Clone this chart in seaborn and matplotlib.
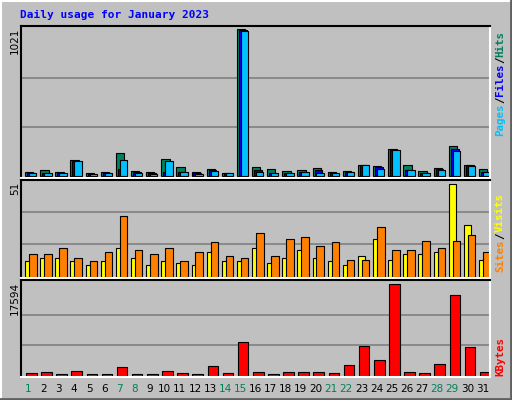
import matplotlib
matplotlib.use("Agg")
import matplotlib.pyplot as plt
import seaborn as sns
import numpy as np
from matplotlib.lines import Line2D

days = list(range(1, 32))
hits = [23,37,23,113,16,23,155,30,23,120,58,23,44,21,1021,58,44,30,37,51,23,30,72,65,183,72,30,51,210,72,44]
files = [16,16,16,106,9,16,44,23,16,23,23,16,37,16,1014,42,16,16,23,37,16,23,72,60,180,37,16,44,183,72,23]
pages = [16,16,16,106,9,16,113,16,9,106,23,9,30,16,1007,23,16,16,23,16,16,23,72,44,176,37,16,37,169,65,23]
visits = [8,10,10,8,6,8,15,10,6,8,7,6,13,8,8,15,7,10,14,10,8,6,11,20,9,12,12,13,49,27,9]
sites = [12,12,15,10,8,13,32,14,12,15,8,13,18,11,10,23,11,20,21,16,18,9,9,26,14,14,19,15,19,22,13]
kbytes = [450,640,256,830,256,256,1660,256,256,830,450,256,1860,450,6400,640,256,640,640,640,450,1980,5630,2940,17594,640,450,2180,15420,5440,640]
weekend = [1,7,8,14,15,21,22,28,29]

sns.set_style("white")
plt.rcParams['font.family'] = ['DejaVu Sans']

BG = "#c0c0c0"
W, H = 512, 400
fig = plt.figure(figsize=(W/100, H/100), dpi=100, facecolor=BG)

def px_axes(x0, y0, x1, y1):
    return fig.add_axes([x0/W, 1-y1/H, (x1-x0)/W, (y1-y0)/H])

x = np.array(days, dtype=float)
def style(ax, ymax, top):
    ax.set_facecolor(BG)
    ax.set_xlim(0.5, 31.5)
    ax.set_ylim(-ymax*0.015, ymax)
    for g in (top/3, 2*top/3):
        ax.axhline(g, color="#808080", lw=1.2, zorder=0)
    ax.set_yticks([])
    ax.set_xticks([])
    for s in ("left", "top"):
        ax.spines[s].set_color("black"); ax.spines[s].set_linewidth(1.5)
    for s in ("right", "bottom"):
        ax.spines[s].set_color("white"); ax.spines[s].set_linewidth(1.5)

ax1 = px_axes(21, 26, 490, 178)
style(ax1, 1021*150/147, 1021)
kw = dict(align="edge", edgecolor="black", linewidth=0.8)
ax1.bar(x-0.23, hits, 0.55, color="#00805c", **kw)
ax1.bar(x-0.10, files, 0.52, color="#0000ff", **kw)
ax1.bar(x+0.03, pages, 0.49, color="#00c0ff", **kw)

ax2 = px_axes(21, 180, 490, 278)
style(ax2, 51, 51)
ax2.bar(x-0.23, visits, 0.5, color="#ffff00", **kw)
ax2.bar(x+0.03, sites, 0.5, color="#ff8000", **kw)

ax3 = px_axes(21, 280, 490, 377)
style(ax3, 17594*96/92, 17594)
ax3.bar(x-0.17, kbytes, 0.7, color="#ff0000", **kw)
ax3.set_xticks(days)
ax3.set_xticklabels([str(d) for d in days], fontsize=7.5)
ax3.tick_params(axis="x", length=0, pad=5)
for lab, d in zip(ax3.get_xticklabels(), days):
    lab.set_color("#00805c" if d in weekend else "black")

fig.add_artist(Line2D([0, 1], [1-1/H, 1-1/H], color="white", lw=1.5))
fig.add_artist(Line2D([1/W, 1/W], [0, 1], color="white", lw=1.5))
fig.add_artist(Line2D([0, 1], [1/H, 1/H], color="#606060", lw=2))
fig.add_artist(Line2D([1-1/W, 1-1/W], [0, 1], color="#606060", lw=2))

fig.text(20/W, 1-15/H, "Daily usage for January 2023", color="#0000ff",
         fontsize=8, fontweight="bold", family="DejaVu Sans Mono", va="center")

for txt, ytop in (("1021", 28), ("51", 182), ("17594", 282)):
    fig.text(15/W, 1-ytop/H, txt, rotation=90, fontsize=7.5, ha="center", va="top", color="black")

def right_label(parts, ybottom):
    cw = 6.6
    y = ybottom
    for t, c in parts:
        fig.text(500/W, 1-y/H, t, rotation=90, fontsize=7.8, color=c, family="DejaVu Sans Mono",
                 fontweight="bold", ha="center", va="bottom")
        y -= cw*len(t)

right_label([("Pages", "#00c0ff"), ("/", "black"), ("Files", "#0000ff"), ("/", "black"), ("Hits", "#00805c")], 136)
right_label([("Sites", "#ff8000"), ("/", "black"), ("Visits", "#ffff00")], 272)
right_label([("KBytes", "#ff0000")], 376)

fig.savefig("out.png", dpi=100, facecolor=BG)
